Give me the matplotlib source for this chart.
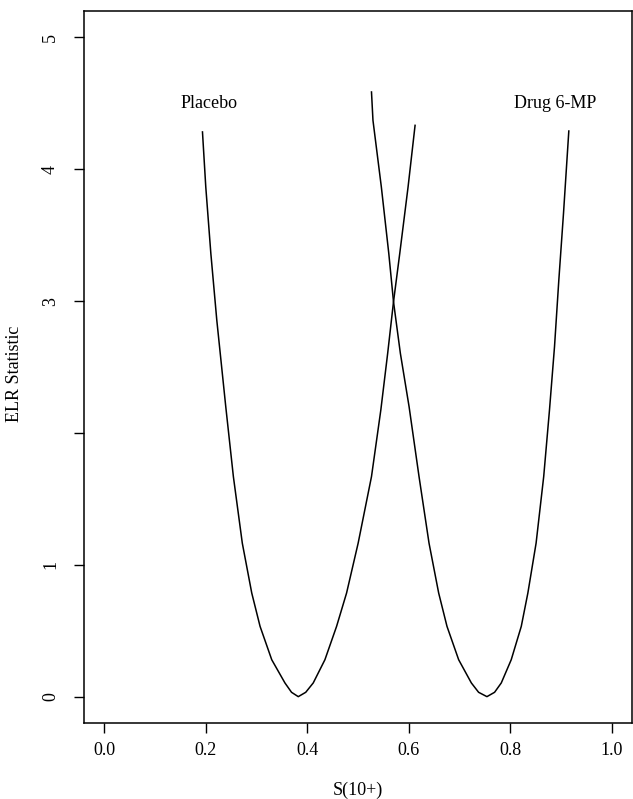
import matplotlib
matplotlib.use("Agg")
import matplotlib.pyplot as plt

# Curve points
placebo_x = [0.1935, 0.200, 0.210, 0.2217, 0.2394, 0.2544, 0.272, 0.2906, 0.307, 0.330, 0.356,
             0.369, 0.3823, 0.397, 0.4118, 0.4348, 0.4578, 0.4775, 0.5003, 0.5266, 0.545,
             0.5585, 0.570, 0.5823, 0.5987, 0.6125]
placebo_y = [4.283, 3.866, 3.361, 2.856, 2.199, 1.669, 1.164, 0.786, 0.533, 0.280, 0.104,
             0.033, 0.0, 0.033, 0.104, 0.280, 0.533, 0.786, 1.164, 1.669, 2.174,
             2.604, 2.995, 3.361, 3.866, 4.333]

drug_x = [0.5266, 0.5295, 0.546, 0.5607, 0.570, 0.5835, 0.6007, 0.6203, 0.640, 0.659, 0.6754,
          0.6984, 0.7234, 0.7377, 0.7541, 0.7692, 0.7824, 0.802, 0.8218, 0.8348, 0.851,
          0.866, 0.8774, 0.8873, 0.8958, 0.905, 0.9155]
drug_y = [4.586, 4.371, 3.866, 3.361, 2.995, 2.604, 2.199, 1.669, 1.164, 0.786, 0.533,
          0.280, 0.104, 0.033, 0.0, 0.033, 0.104, 0.280, 0.533, 0.786, 1.164,
          1.669, 2.174, 2.654, 3.159, 3.664, 4.290]

x_ticks = [0.0, 0.2, 0.4, 0.6, 0.8, 1.0]
x_tick_labels = ["0.0", "0.2", "0.4", "0.6", "0.8", "1.0"]
y_ticks = [0, 1, 2, 3, 4, 5]
y_tick_labels = ["0", "1", "", "3", "4", "5"]

labels = ["Placebo", "Drug 6-MP"]
label_x = [0.207, 0.888]
label_y = [4.5, 4.5]

plt.rcParams['font.family'] = ['Liberation Serif', 'DejaVu Serif']

fig = plt.figure(figsize=(6.33, 7.99), dpi=100)
ax = fig.add_axes([0.1327, 0.0951, 0.8657, 0.8911])

ax.plot(placebo_x, placebo_y, color='black', lw=1.1, solid_joinstyle='round')
ax.plot(drug_x, drug_y, color='black', lw=1.1, solid_joinstyle='round')

for t, xx, yy in zip(labels, label_x, label_y):
    ax.text(xx, yy, t, ha='center', va='center', fontsize=13)

ax.set_xlim(-0.04, 1.04)
ax.set_ylim(-0.2, 5.2)
ax.set_xticks(x_ticks)
ax.set_xticklabels(x_tick_labels, fontsize=13)
ax.set_yticks(y_ticks)
ax.set_yticklabels(y_tick_labels, fontsize=13, rotation=90, va='center')
ax.tick_params(axis='both', direction='out', length=7, width=1.0, colors='black')
ax.tick_params(axis='x', pad=7)
ax.tick_params(axis='y', pad=11)
for s in ax.spines.values():
    s.set_linewidth(1.1)

ax.set_xlabel("S(10+)", fontsize=13)
ax.xaxis.set_label_coords(0.5, -0.083)
ax.set_ylabel("ELR Statistic", fontsize=13)
ax.yaxis.set_label_coords(-0.111, 0.49)

fig.savefig("out.png", dpi=100)
